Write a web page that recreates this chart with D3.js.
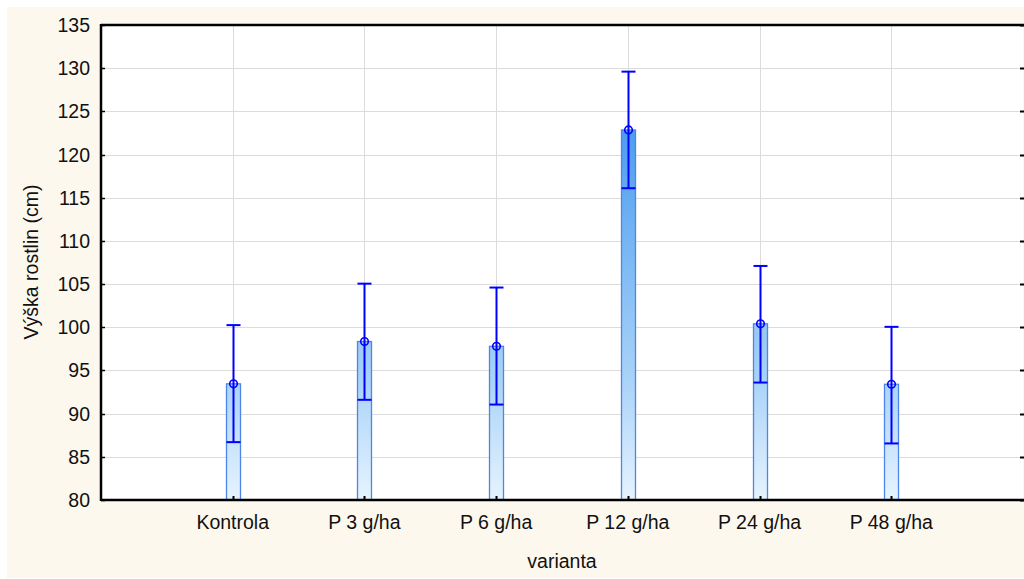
<!DOCTYPE html>
<html><head><meta charset="utf-8">
<script src="https://cdn.jsdelivr.net/npm/d3@7"></script>
<style>html,body{margin:0;padding:0;background:#fff;}svg{display:block;}</style>
</head><body>
<svg id="c" width="1024" height="579"></svg>
<script>
const categories = ["Kontrola","P 3 g/ha","P 6 g/ha","P 12 g/ha","P 24 g/ha","P 48 g/ha"];
const means = [93.45, 98.35, 97.8, 122.85, 100.4, 93.4];
const upper = [100.25, 105.05, 104.6, 129.6, 107.1, 100.05];
const lower = [86.7, 91.6, 91.05, 116.1, 93.6, 86.55];
const yTicks = [80,85,90,95,100,105,110,115,120,125,130,135];
const yTitle = "Výška rostlin (cm)";
const xTitle = "varianta";

const svg = d3.select("#c");
const W = 1024, H = 579;
const L = 101, R = 1023, T = 25, B = 500;
const font = "Liberation Sans, Arial, sans-serif";
const fs = 19.5;

svg.append("rect").attr("x",7).attr("y",7).attr("width",W-7).attr("height",571).attr("fill","#fdf8ee");
svg.append("rect").attr("x",L).attr("y",T).attr("width",R-L).attr("height",B-T).attr("fill","#fff");

const y = d3.scaleLinear().domain([80,135]).range([B,T]);
const x = d3.scaleLinear().domain([0,7]).range([L,R]);
const xc = i => x(i+1);

const defs = svg.append("defs");
const g = defs.append("linearGradient").attr("id","bg").attr("gradientUnits","userSpaceOnUse")
  .attr("x1",0).attr("x2",0).attr("y1",T).attr("y2",B);
g.append("stop").attr("offset",0).attr("stop-color","#2f86ea");
g.append("stop").attr("offset",0.22).attr("stop-color","#4c9df0");
g.append("stop").attr("offset",0.75).attr("stop-color","#aad3f8");
g.append("stop").attr("offset",1).attr("stop-color","#e6f3fe");

// grid
svg.append("g").selectAll("line").data(yTicks.slice(1,-1)).join("line")
  .attr("x1",L).attr("x2",R).attr("y1",d=>Math.round(y(d))+0.5).attr("y2",d=>Math.round(y(d))+0.5)
  .attr("stroke","#dcdcdc").attr("stroke-width",1);
svg.append("g").selectAll("line").data(categories).join("line")
  .attr("x1",(d,i)=>Math.round(xc(i))+0.5).attr("x2",(d,i)=>Math.round(xc(i))+0.5)
  .attr("y1",T).attr("y2",B).attr("stroke","#dcdcdc").attr("stroke-width",1);

// bars
const bw = 14;
svg.append("g").selectAll("rect").data(means).join("rect")
  .attr("x",(d,i)=>Math.round(xc(i))-bw/2+0.5).attr("width",bw)
  .attr("y",d=>y(d)).attr("height",d=>B-y(d))
  .attr("fill","url(#bg)").attr("stroke","#4d86e8").attr("stroke-width",1.3);

// error bars
const eb = svg.append("g").attr("stroke","#0000ff").attr("stroke-width",2).attr("fill","none");
categories.forEach((c,i)=>{
  const cx = Math.round(xc(i))+0.5;
  eb.append("line").attr("x1",cx).attr("x2",cx).attr("y1",y(upper[i])).attr("y2",y(lower[i]));
  eb.append("line").attr("x1",cx-7).attr("x2",cx+7).attr("y1",y(upper[i])).attr("y2",y(upper[i]));
  eb.append("line").attr("x1",cx-7).attr("x2",cx+7).attr("y1",y(lower[i])).attr("y2",y(lower[i]));
  eb.append("circle").attr("cx",cx).attr("cy",y(means[i])).attr("r",3.8).attr("stroke-width",1.6);
});

// axes frame
const ax = svg.append("g").attr("stroke","#000");
ax.append("line").attr("x1",L).attr("x2",W).attr("y1",T).attr("y2",T).attr("stroke-width",2.5);
ax.append("line").attr("x1",L).attr("x2",W).attr("y1",B).attr("y2",B).attr("stroke-width",2.5);
ax.append("line").attr("x1",L).attr("x2",L).attr("y1",T-1).attr("y2",B+1).attr("stroke-width",2.5);

// y ticks left & right (inward)
yTicks.forEach(t=>{
  const yy = Math.round(y(t))+0.5;
  ax.append("line").attr("x1",L).attr("x2",L+4).attr("y1",yy).attr("y2",yy).attr("stroke-width",1.5);
  ax.append("line").attr("x1",1020).attr("x2",1024).attr("y1",yy).attr("y2",yy).attr("stroke-width",2);
});
// x ticks inward
categories.forEach((c,i)=>{
  const cx = Math.round(xc(i))+0.5;
  ax.append("line").attr("x1",cx).attr("x2",cx).attr("y1",B).attr("y2",B-4).attr("stroke-width",2);
});

// labels
svg.append("g").selectAll("text").data(yTicks).join("text")
  .attr("x",90).attr("y",d=>y(d)).attr("dy","0.36em").attr("text-anchor","end")
  .attr("font-family",font).attr("font-size",fs).attr("fill","#111").text(d=>d);
svg.append("g").selectAll("text").data(categories).join("text")
  .attr("x",(d,i)=>xc(i)).attr("y",529).attr("text-anchor","middle")
  .attr("font-family",font).attr("font-size",fs).attr("fill","#111").text(d=>d);
svg.append("text").attr("x",(L+R)/2).attr("y",568).attr("text-anchor","middle")
  .attr("font-family",font).attr("font-size",fs).attr("fill","#111").text(xTitle);
svg.append("text").attr("transform","translate(38,262) rotate(-90)").attr("text-anchor","middle")
  .attr("font-family",font).attr("font-size",fs).attr("fill","#111").text(yTitle);
</script>
</body></html>
